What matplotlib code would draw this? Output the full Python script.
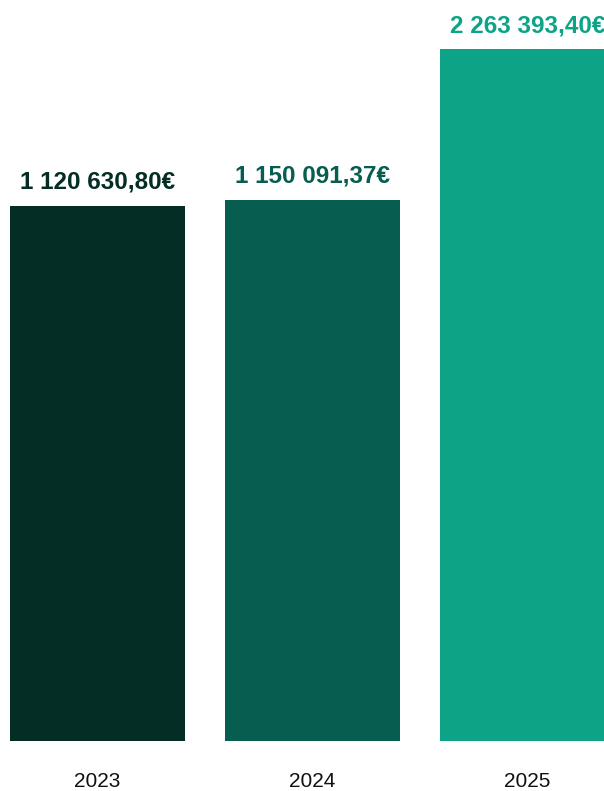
import matplotlib
matplotlib.use("Agg")
import matplotlib.pyplot as plt

years = ["2023", "2024", "2025"]
amounts = [1120630.80, 1150091.37, 2263393.40]
labels = ["1 120 630,80€", "1 150 091,37€", "2 263 393,40€"]
colors = ["#042E25", "#075E50", "#0CA387"]

fig = plt.figure(figsize=(6.04, 7.91), dpi=100)
# axes spans full width, bottom at the bar base
ax = fig.add_axes([0, 50 / 791, 1, 741 / 791])

x = list(range(len(years)))
ax.bar(x, amounts, width=0.81, color=colors, bottom=0)
ax.set_yscale("log")
ax.set_ylim(101500, 2.82e6)
ax.set_xlim(-0.4535, 2.3558)

for xi, v, lab, c in zip(x, amounts, labels, colors):
    ax.annotate(lab, (xi, v), xytext=(0, 12), textcoords="offset pixels",
                ha="center", va="bottom", fontsize=17.5, fontweight="bold",
                color=c, family="Liberation Sans", annotation_clip=False)

for xi, y in zip(x, years):
    ax.text(xi, -0.054, y, transform=ax.get_xaxis_transform(), ha="center",
            va="center", fontsize=15, color="#111111", family="Liberation Sans")

ax.axis("off")
fig.savefig("out.png", dpi=100)
